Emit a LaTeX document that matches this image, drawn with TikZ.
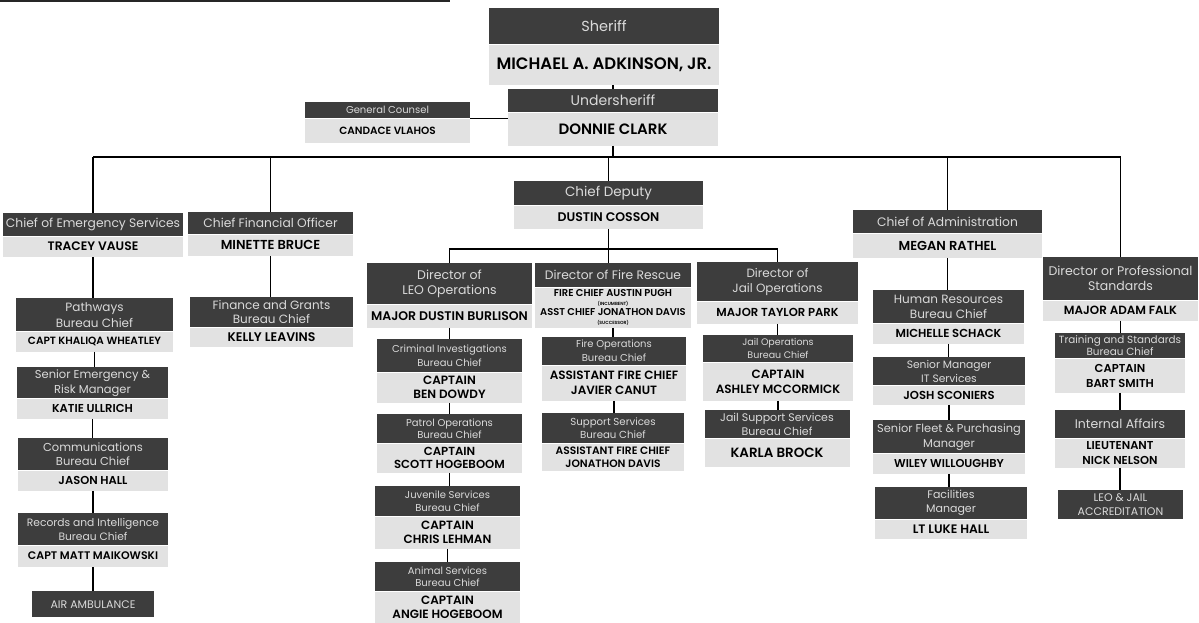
\documentclass[tikz,border=0pt]{standalone}
\usepackage{fontspec}
\setmainfont{Poppins}[BoldFont={Poppins SemiBold}]
\usepackage{tikz}
\usetikzlibrary{positioning}
\definecolor{headgray}{HTML}{3D3D3D}
\definecolor{headtext}{HTML}{DADADA}
\definecolor{namegray}{HTML}{E2E2E2}
\newcommand{\fsz}[2]{\fontsize{#1}{#2}\selectfont}
\newcommand{\orgunit}[9]{%
\node[headbox, font=\fsz#6, minimum width=#3pt, minimum height=#4pt, anchor=north] (#1H) at (#2) {#8};
\node[namebox, font=\bfseries\fsz#7, minimum width=#3pt, minimum height=#5pt, below=0pt of #1H] (#1) {#9};}

\begin{document}
\begin{tikzpicture}[x=1pt, y=-1pt,
  headbox/.style={fill=headgray, text=headtext, inner sep=0pt, align=center, font=\fsz{10}{13}},
  namebox/.style={fill=namegray, text=black, inner sep=0pt, align=center, font=\bfseries\fsz{10}{13}},
  link/.style={draw=black, line width=1.8pt}]
\useasboundingbox (0,0) rectangle (1199,622);
\draw[line width=1.5pt, black!85] (0,1) -- (450,1);

\orgunit{sheriff}{604,8}{230}{36}{40}{{14.5}{17}}{{16.5}{19}}{Sheriff}{MICHAEL A. ADKINSON, JR.}
\orgunit{under}{613,89}{210}{23}{33}{{14}{17}}{{15}{18}}{Undersheriff}{DONNIE CLARK}
\orgunit{counsel}{387.5,102}{165}{16}{24}{{10}{12}}{{10.5}{12}}{General Counsel}{CANDACE VLAHOS}
\orgunit{deputy}{608.5,181}{189}{24}{23}{{13.5}{16}}{{12.5}{15}}{Chief Deputy}{DUSTIN COSSON}

\orgunit{ces}{93,213}{180}{23}{20}{{12.3}{15}}{{12.3}{15}}{Chief of Emergency Services}{TRACEY VAUSE}
\orgunit{path}{94.5,298}{157}{33}{20}{{12}{16}}{{10.5}{13}}{Pathways\\Bureau Chief}{CAPT KHALIQA WHEATLEY}
\orgunit{risk}{92.5,367}{151}{31}{20}{{11.5}{15}}{{11.5}{14}}{Senior Emergency \&\\Risk Manager}{KATIE ULLRICH}
\orgunit{comm}{93,438}{150}{32}{20}{{11.5}{14.5}}{{11.5}{14}}{Communications\\Bureau Chief}{JASON HALL}
\orgunit{recs}{93,513}{150}{32}{21}{{10.7}{14}}{{11}{14}}{Records and Intelligence\\Bureau Chief}{CAPT MATT MAIKOWSKI}
\node[headbox, minimum width=122pt, minimum height=26pt, anchor=north, font=\fsz{11}{13}] (airH) at (93,591) {AIR AMBULANCE};

\orgunit{cfo}{270.5,212}{165}{22}{21}{{12.3}{15}}{{13}{15}}{Chief Financial Officer}{MINETTE BRUCE}
\orgunit{fin}{271.5,297}{163}{30}{19}{{12}{14.5}}{{12.5}{15}}{Finance and Grants\\Bureau Chief}{KELLY LEAVINS}

\orgunit{leo}{449.5,263}{165}{41}{23}{{12.5}{15.5}}{{12.5}{15}}{Director of\\LEO Operations}{MAJOR DUSTIN BURLISON}
\orgunit{crim}{449.5,339}{145}{33}{30}{{10}{13.5}}{{12}{14}}{Criminal Investigations\\Bureau Chief}{CAPTAIN\\BEN DOWDY}
\orgunit{patrol}{449.5,414}{145}{29}{29}{{10}{12.5}}{{11.7}{13.5}}{Patrol Operations\\Bureau Chief}{CAPTAIN\\SCOTT HOGEBOOM}
\orgunit{juv}{447.5,486}{145}{30}{32}{{10}{12.5}}{{12}{14}}{Juvenile Services\\Bureau Chief}{CAPTAIN\\CHRIS LEHMAN}
\orgunit{animal}{447.5,562}{145}{29}{31}{{10}{12.5}}{{12}{13.5}}{Animal Services\\Bureau Chief}{CAPTAIN\\ANGIE HOGEBOOM}

\orgunit{fire}{613,263}{156}{24}{40}{{12.3}{15}}{{9.9}{9.5}}{Director of Fire Rescue}{FIRE CHIEF AUSTIN PUGH\\{\fsz{4.5}{5}(INCUMBENT)}\\ASST CHIEF JONATHON DAVIS\\{\fsz{4.5}{5}(SUCCESSOR)}}
\orgunit{fireops}{614,337}{144}{28}{35}{{10}{14}}{{12}{15}}{Fire Operations\\Bureau Chief}{ASSISTANT FIRE CHIEF\\JAVIER CANUT}
\orgunit{support}{613,413}{142}{30}{27}{{10.2}{12.5}}{{10.7}{13.5}}{Support Services\\Bureau Chief}{ASSISTANT FIRE CHIEF\\JONATHON DAVIS}

\orgunit{jail}{777.5,262}{161}{39}{22}{{12}{15}}{{11.6}{14}}{Director of\\Jail Operations}{MAJOR TAYLOR PARK}
\orgunit{jailops}{778,335}{150}{27}{38}{{9.5}{13}}{{12}{15}}{Jail Operations\\Bureau Chief}{CAPTAIN\\ASHLEY MCCORMICK}
\orgunit{jailsup}{777,410}{145}{28}{28}{{11}{14}}{{13.4}{16}}{Jail Support Services\\Bureau Chief}{KARLA BROCK}

\orgunit{admin}{947.5,210}{189}{23}{24}{{12.3}{15}}{{13}{16}}{Chief of Administration}{MEGAN RATHEL}
\orgunit{hr}{948.5,290}{151}{33}{20}{{12}{15}}{{11.6}{14}}{Human Resources\\Bureau Chief}{MICHELLE SCHACK}
\orgunit{itm}{949,357}{152}{28}{19}{{10.7}{14}}{{11.6}{14}}{Senior Manager\\IT Services}{JOSH SCONIERS}
\orgunit{fleet}{949,420}{152}{33}{20}{{11.4}{15}}{{11.4}{14}}{Senior Fleet \& Purchasing\\Manager}{WILEY WILLOUGHBY}
\orgunit{fac}{951,487}{152}{32}{19}{{11}{14}}{{12.3}{14}}{Facilities\\Manager}{LT LUKE HALL}

\orgunit{pstd}{1120.5,257}{155}{43}{20}{{12.5}{15}}{{11.9}{14}}{Director or Professional\\Standards}{MAJOR ADAM FALK}
\orgunit{train}{1120,333}{130}{25}{34}{{10.4}{12}}{{11.5}{15}}{Training and Standards\\Bureau Chief}{CAPTAIN\\BART SMITH}
\orgunit{ia}{1120,410}{130}{28}{29}{{12.5}{15}}{{11.5}{15}}{Internal Affairs}{LIEUTENANT\\NICK NELSON}
\node[headbox, minimum width=125pt, minimum height=29pt, anchor=north, font=\fsz{11}{14}] (accrH) at (1120.5,490) {LEO \& JAIL\\ACCREDITATION};

\coordinate (bus) at (0,157);
\coordinate (sub) at (0,249);
\draw[link] (underH.north) -- (underH.north |- sheriff.south);
\draw[link] (counselH.south east) -- (counselH.south east -| underH.west);
\draw[link] (under.south) -- (under.south |- bus);
\draw[link] (cesH.north |- bus) -- (pstdH.north |- bus);
\foreach \n in {cesH, cfoH, deputyH, adminH, pstdH}
  \draw[link] (\n.north) -- (\n.north |- bus);
\draw[link] (deputy.south) -- (deputy.south |- fireH.north);
\draw[link] (leoH.north) |- (sub -| jailH.north) -- (jailH.north);
\foreach \a/\b in {ces/pathH, path/riskH, risk/commH, comm/recsH, recs/airH, cfo/finH,
  leo/crimH, crim/patrolH, patrol/juvH, juv/animalH, fire/fireopsH, fireops/supportH,
  jail/jailopsH, jailops/jailsupH, admin/hrH, hr/itmH, itm/fleetH, fleet/facH,
  pstd/trainH, train/iaH, ia/accrH}
  \draw[link] (\a.south) -- (\a.south |- \b.north);
\end{tikzpicture}
\end{document}
